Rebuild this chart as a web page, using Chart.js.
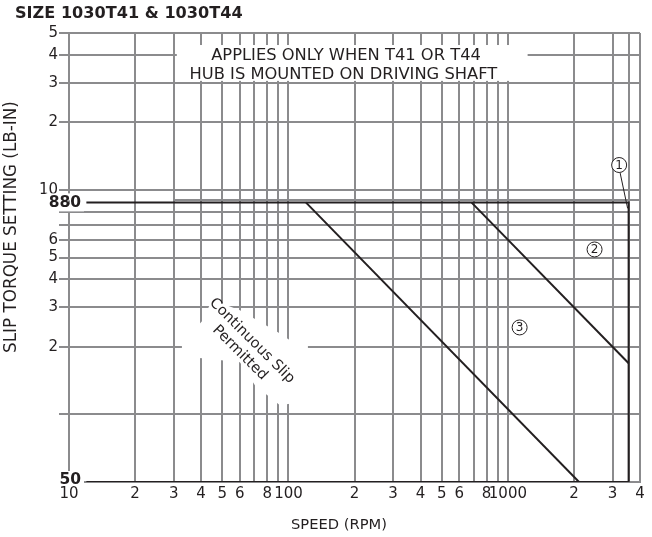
<!DOCTYPE html>
<html>
<head>
<meta charset="utf-8">
<script src="https://cdn.jsdelivr.net/npm/chart.js@4.4.1/dist/chart.umd.min.js"></script>
<style>
  body { margin: 0; background: #fff; }
  #wrap { width: 652px; height: 537px; }
</style>
</head>
<body>
<div id="wrap"><canvas id="slipChart" width="652" height="537"></canvas></div>
<script>
// speed (rpm) on x, slip torque (lb-in) on y, both log
const limitSpeed = [12, 3550, 3550, 12];
const limitTorque = [880, 880, 50, 50];
const curve2Speed = [682, 3550];
const curve2Torque = [880, 169];
const curve3Speed = [120, 2110];
const curve3Torque = [880, 50];

const xGridValues = [10, 20, 30, 40, 50, 60, 70, 80, 90, 100, 200, 300, 400, 500, 600, 700, 800, 900, 1000, 2000, 3000, 3550, 4000];
const xTickLabels = { 10: "10", 20: "2", 30: "3", 40: "4", 50: "5", 60: "6", 80: "8", 100: "100",
  200: "2", 300: "3", 400: "4", 500: "5", 600: "6", 800: "8", 1000: "1000", 2000: "2", 3000: "3", 4000: "4" };
const yGridValues = [50, 100, 200, 300, 400, 500, 600, 700, 800, 1000, 2000, 3000, 4000, 5000];
const yTickLabels = { 200: "2", 300: "3", 400: "4", 500: "5", 600: "6", 1000: "10", 2000: "2", 3000: "3", 4000: "4", 5000: "5" };
const boldTorqueLabels = [880, 50];

const noteLabels = ["1", "2", "3"];
const noteSpeed = [3214, 2483, 1131];
const noteTorque = [1291, 543, 244];

const GRID = "#8b8b8d";
const INK = "#231f20";
const FAMILY = '"DejaVu Sans"';

function pts(xs, ys) {
    return xs.map((v, i) => ({ x: v, y: ys[i] }));
}

function fitFont(ctx, text, width, weight) {
    ctx.font = `${weight} 20px ${FAMILY}`;
    const size = 20 * width / ctx.measureText(text).width;
    return `${weight} ${size.toFixed(2)}px ${FAMILY}`;
}

const decorations = {
    id: "decorations",
    beforeDatasetsDraw(chart) {
        const { ctx, scales: { x, y } } = chart;
        ctx.save();

        // 900 line only runs from the 30 rpm line
        ctx.strokeStyle = GRID;
        ctx.lineWidth = 2;
        ctx.beginPath();
        ctx.moveTo(x.getPixelForValue(30), Math.round(y.getPixelForValue(900)));
        ctx.lineTo(x.getPixelForValue(4000), Math.round(y.getPixelForValue(900)));
        ctx.stroke();

        // note box at the top
        const bx1 = x.getPixelForValue(31), bx2 = x.getPixelForValue(1230);
        const by1 = y.getPixelForValue(4420), by2 = y.getPixelForValue(3060);
        ctx.fillStyle = "#fff";
        ctx.fillRect(bx1, by1, bx2 - bx1, by2 - by1);
        ctx.fillStyle = INK;
        ctx.textAlign = "center";
        ctx.textBaseline = "middle";
        ctx.font = fitFont(ctx, "HUB IS MOUNTED ON DRIVING SHAFT", 308, "normal");
        ctx.fillText("APPLIES ONLY WHEN T41 OR T44", x.getPixelForValue(183), by1 + 10.5);
        ctx.fillText("HUB IS MOUNTED ON DRIVING SHAFT", x.getPixelForValue(178), by1 + 30);

        // rotated label with white mask
        const ax = x.getPixelForValue(64), ay = y.getPixelForValue(200);
        const mask = [[-64, -3.5], [-43, -26.5], [-34, -47], [-6, -36.5], [32, -14.5], [44, -6.5], [62, -1.5],
            [62, 11.5], [54, 55.5], [34, 58.5], [9, 38.5], [-6, 15.5], [-43, 11.5], [-64, 10.5]];
        ctx.fillStyle = "#fff";
        ctx.beginPath();
        mask.forEach(([dx, dy], i) => i ? ctx.lineTo(ax + dx, ay + dy) : ctx.moveTo(ax + dx, ay + dy));
        ctx.closePath();
        ctx.fill();
        ctx.translate(ax, ay);
        ctx.rotate(45 * Math.PI / 180);
        ctx.fillStyle = INK;
        ctx.font = fitFont(ctx, "Continuous Slip", 114, "normal");
        ctx.fillText("Continuous Slip", 0, -8.5);
        ctx.fillText("Permitted", 0, 8.5);
        ctx.restore();
    },
    afterDatasetsDraw(chart) {
        const { ctx, scales: { x, y } } = chart;
        ctx.save();

        // bold torque labels over the axis
        const axisX = x.getPixelForValue(10);
        ctx.font = `bold 15.5px ${FAMILY}`;
        ctx.textAlign = "right";
        ctx.textBaseline = "middle";
        boldTorqueLabels.forEach(v => {
            const py = y.getPixelForValue(v);
            const w = ctx.measureText(String(v)).width;
            const top = v === 50 ? py - 11 : py - 9;
            const bottom = v === 50 ? py + 2 : py - 2;
            ctx.fillStyle = "#fff";
            ctx.fillRect(axisX + 12 - w - 3, top, w + 6, bottom - top);
            if (v !== 50) ctx.fillRect(axisX + 12 - w - 3, py + 2, w + 6, 7);
            ctx.fillStyle = INK;
            ctx.fillText(String(v), axisX + 12, v === 50 ? py - 2 : py + 0.5);
        });

        // circled notes
        ctx.lineWidth = 1;
        ctx.strokeStyle = INK;
        ctx.textAlign = "center";
        noteLabels.forEach((t, i) => {
            const cx = x.getPixelForValue(noteSpeed[i]);
            const cy = y.getPixelForValue(noteTorque[i]);
            ctx.beginPath();
            ctx.arc(cx, cy, 7.5, 0, Math.PI * 2);
            ctx.fillStyle = "#fff";
            ctx.fill();
            ctx.stroke();
            ctx.fillStyle = INK;
            ctx.font = `12px ${FAMILY}`;
            ctx.fillText(t, cx, cy + 0.5);
            if (i === 0) {
                ctx.beginPath();
                ctx.moveTo(cx + 1, cy + 8);
                ctx.lineTo(x.getPixelForValue(3550) - 1, y.getPixelForValue(880) + 6);
                ctx.stroke();
            }
        });
        ctx.restore();
    },
    afterDraw(chart) {
        const { ctx } = chart;
        ctx.save();
        ctx.fillStyle = INK;
        ctx.textBaseline = "middle";
        ctx.textAlign = "left";
        ctx.font = fitFont(ctx, "SIZE 1030T41 & 1030T44", 228, "bold");
        ctx.fillText("SIZE 1030T41 & 1030T44", 15, 14);

        ctx.textAlign = "center";
        ctx.font = fitFont(ctx, "SPEED (RPM)", 96, "normal");
        ctx.fillText("SPEED (RPM)", 339, 525);

        ctx.translate(12, 227);
        ctx.rotate(-Math.PI / 2);
        ctx.font = fitFont(ctx, "SLIP TORQUE SETTING (LB-IN)", 252, "normal");
        ctx.fillText("SLIP TORQUE SETTING (LB-IN)", 0, 0);
        ctx.restore();
    }
};

const lineStyle = {
    showLine: true,
    borderColor: INK,
    borderWidth: 2,
    pointRadius: 0,
    borderJoinStyle: "miter",
    fill: false
};

new Chart(document.getElementById("slipChart").getContext("2d"), {
    type: "scatter",
    data: {
        datasets: [
            { label: "limit", data: pts(limitSpeed, limitTorque), ...lineStyle },
            { label: "curve 2", data: pts(curve2Speed, curve2Torque), ...lineStyle },
            { label: "curve 3", data: pts(curve3Speed, curve3Torque), ...lineStyle }
        ]
    },
    options: {
        responsive: false,
        animation: false,
        devicePixelRatio: 1,
        layout: { padding: { left: 0, top: 33, right: 12, bottom: 0 } },
        plugins: { legend: { display: false }, tooltip: { enabled: false } },
        scales: {
            x: {
                type: "logarithmic",
                min: 10,
                max: 4000,
                afterBuildTicks: axis => { axis.ticks = xGridValues.map(v => ({ value: v })); },
                afterFit: axis => { axis.height = 55; },
                grid: { color: GRID, lineWidth: 2, drawTicks: false },
                border: { color: GRID, width: 2 },
                ticks: {
                    autoSkip: false,
                    maxRotation: 0,
                    padding: 3,
                    color: INK,
                    font: { family: "DejaVu Sans", size: 15 },
                    callback: v => xTickLabels[v] ?? ""
                }
            },
            y: {
                type: "logarithmic",
                min: 50,
                max: 5000,
                afterBuildTicks: axis => { axis.ticks = yGridValues.map(v => ({ value: v })); },
                afterFit: axis => { axis.width = 69; },
                grid: { color: GRID, lineWidth: 2, tickLength: 10 },
                border: { color: GRID, width: 2 },
                ticks: {
                    autoSkip: false,
                    padding: 1,
                    color: INK,
                    font: { family: "DejaVu Sans", size: 15 },
                    callback: v => yTickLabels[v] ?? ""
                }
            }
        }
    },
    plugins: [decorations]
});
</script>
</body>
</html>
